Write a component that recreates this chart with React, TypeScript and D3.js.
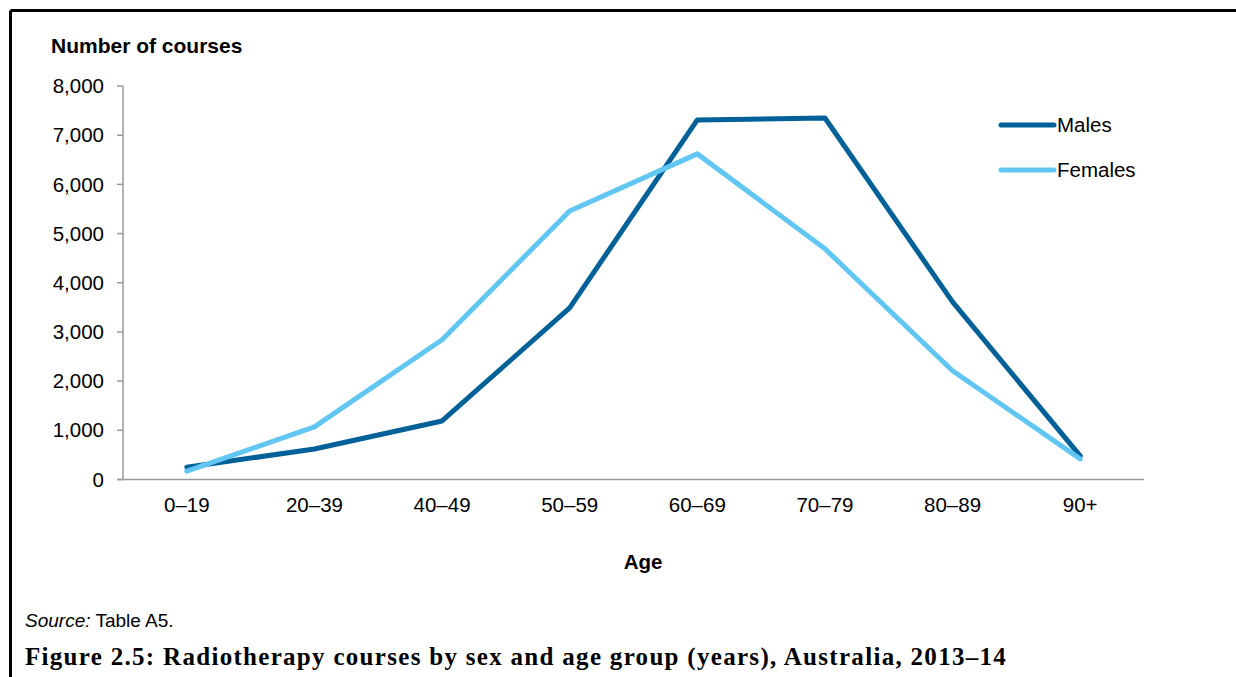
import React from "react";
import * as d3 from "d3";

const ageGroups = ["0–19", "20–39", "40–49", "50–59", "60–69", "70–79", "80–89", "90+"];
const males = [250, 620, 1190, 3490, 7310, 7350, 3610, 480];
const females = [170, 1070, 2840, 5460, 6620, 4690, 2210, 420];
const yTicks = [0, 1000, 2000, 3000, 4000, 5000, 6000, 7000, 8000];

const W = 1236;
const H = 677;
const plot = { left: 123, right: 1144, top: 86, bottom: 479.5 };
const sans = "'Liberation Sans', Arial, sans-serif";
const fs = 20.5;

const series = [
  { name: "Males", values: males, color: "#006098" },
  { name: "Females", values: females, color: "#62C6F2" },
];

export default function App() {
  const x = d3.scaleBand<string>().domain(ageGroups).range([plot.left, plot.right]);
  const y = d3.scaleLinear().domain([0, 8000]).range([plot.bottom, plot.top]);
  const fmt = d3.format(",");
  const line = d3
    .line<number>()
    .x((_, i) => (x(ageGroups[i]) as number) + x.bandwidth() / 2)
    .y((v) => y(v));

  return (
    <svg width={W} height={H} style={{ position: "absolute", left: 0, top: 0, background: "#fff" }}>
      <rect x={0} y={0} width={W} height={H} fill="#fff" />
      {/* frame */}
      <line x1={10.5} y1={10.5} x2={W} y2={10.5} stroke="#000" strokeWidth={3} />
      <line x1={10.5} y1={10.5} x2={10.5} y2={H} stroke="#000" strokeWidth={3} />

      <text x={51} y={53} fontFamily={sans} fontSize={21} fontWeight="bold" fill="#000">
        Number of courses
      </text>

      {/* y axis */}
      <line x1={plot.left} y1={plot.top} x2={plot.left} y2={plot.bottom} stroke="#999" strokeWidth={1.5} />
      {yTicks.map((t) => (
        <g key={t}>
          <line x1={plot.left - 6} x2={plot.left} y1={y(t)} y2={y(t)} stroke="#999" strokeWidth={1.5} />
          <text x={104} y={y(t)} dy="0.35em" textAnchor="end" fontFamily={sans} fontSize={fs} fill="#000">
            {fmt(t)}
          </text>
        </g>
      ))}

      {/* x axis */}
      <line x1={plot.left - 6} y1={plot.bottom} x2={plot.right} y2={plot.bottom} stroke="#999" strokeWidth={1.5} />
      {ageGroups.map((g) => (
        <text
          key={g}
          x={(x(g) as number) + x.bandwidth() / 2}
          y={512}
          textAnchor="middle"
          fontFamily={sans}
          fontSize={fs}
          fill="#000"
        >
          {g}
        </text>
      ))}
      <text x={643} y={569} textAnchor="middle" fontFamily={sans} fontSize={fs} fontWeight="bold" fill="#000">
        Age
      </text>

      {/* series */}
      {series.map((s) => (
        <path
          key={s.name}
          d={line(s.values) || ""}
          fill="none"
          stroke={s.color}
          strokeWidth={5}
          strokeLinejoin="round"
          strokeLinecap="round"
        />
      ))}

      {/* legend */}
      {series.map((s, i) => (
        <g key={s.name} transform={`translate(0, ${125 + i * 45})`}>
          <line x1={1001} x2={1054} y1={0} y2={0} stroke={s.color} strokeWidth={5} strokeLinecap="round" />
          <text x={1057} y={0} dy="0.35em" fontFamily={sans} fontSize={fs} fill="#000">
            {s.name}
          </text>
        </g>
      ))}

      <text x={25} y={627} fontFamily={sans} fontSize={19} fill="#000">
        <tspan fontStyle="italic">Source:</tspan> Table A5.
      </text>
      <text
        x={25}
        y={665}
        fontFamily="'Liberation Serif', serif"
        fontSize={25}
        fontWeight="bold"
        letterSpacing={1.3}
        fill="#000"
      >
        Figure 2.5: Radiotherapy courses by sex and age group (years), Australia, 2013–14
      </text>
    </svg>
  );
}
